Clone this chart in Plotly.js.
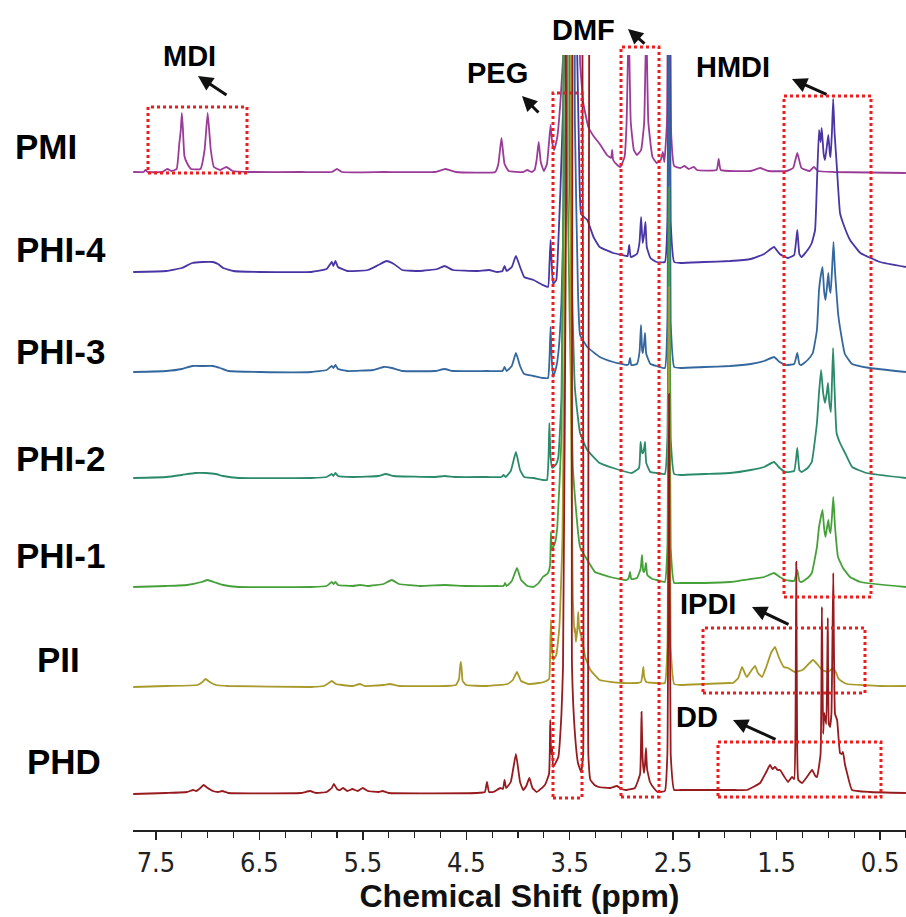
<!DOCTYPE html>
<html>
<head>
<meta charset="utf-8">
<script src="https://cdn.plot.ly/plotly-3.0.1.min.js"></script>
<style>html,body{margin:0;padding:0;background:#fff;}#chart{width:906px;height:917px;}</style>
</head>
<body>
<div id="chart"></div>
<script>
// ---- sample names (stack order, top to bottom) ----
const sampleNames = ['PMI', 'PHI-4', 'PHI-3', 'PHI-2', 'PHI-1', 'PII', 'PHD'];

// ---- spectra: [chemical shift (ppm), relative intensity above own baseline] ----
const pmi = [[7.72,0],[7.62,0],[7.60,2],[7.58,0],[7.44,0],[7.39,3],[7.35,1],[7.30,3],[7.275,28],[7.26,42],[7.25,59],[7.24,44],[7.225,16],[7.20,9],[7.16,3],[7.07,3],[7.03,22],[7.00,59],[6.97,22],[6.94,5],[6.88,2],[6.82,5],[6.76,1],[6.60,0],[6.10,0],[5.80,0],[5.75,3],[5.70,0],[5.30,0],[4.80,0],[4.70,3],[4.60,0],[4.22,0],[4.19,8],[4.16,34],[4.13,8],[4.09,1],[3.95,0],[3.91,2],[3.87,0],[3.84,2],[3.82,12],[3.80,30],[3.78,10],[3.75,1],[3.72,8],[3.70,30],[3.685,47],[3.67,30],[3.65,22],[3.62,35],[3.59,70],[3.55,140],[3.50,300],[3.465,1500],[3.445,1500],[3.42,250],[3.40,110],[3.37,70],[3.35,59],[3.32,45],[3.27,36],[3.21,28],[3.14,17],[3.10,14],[3.09,22],[3.08,12],[3.04,7],[3.01,5],[2.97,15],[2.95,50],[2.93,150],[2.91,50],[2.88,22],[2.85,17],[2.81,22],[2.78,50],[2.76,150],[2.74,50],[2.70,15],[2.66,9],[2.62,12],[2.60,20],[2.585,10],[2.56,50],[2.54,450],[2.52,40],[2.49,6],[2.43,4],[2.39,6],[2.35,3],[2.30,5],[2.27,2],[2.08,2],[2.06,13],[2.04,2],[1.75,1],[1.66,4],[1.58,1],[1.40,1],[1.34,4],[1.30,19],[1.26,4],[1.18,1],[1.14,5],[1.10,1],[0.95,0],[0.25,-1]];

const phi4 = [[7.72,0],[7.40,1],[7.25,4],[7.15,9],[7.05,10],[6.95,10],[6.90,8],[6.85,4],[6.75,1],[6.50,0],[6.00,0],[5.85,3],[5.80,10],[5.785,6],[5.765,11],[5.74,5],[5.65,1],[5.45,2],[5.35,7],[5.27,11],[5.20,8],[5.12,2],[4.95,1],[4.78,3],[4.71,6],[4.63,2],[4.40,1],[4.28,2],[4.20,0],[4.15,1],[4.13,6],[4.11,1],[4.06,5],[4.02,16],[3.98,5],[3.94,-5],[3.85,-8],[3.76,-13],[3.71,-15],[3.695,10],[3.685,32],[3.675,10],[3.66,-12],[3.63,-8],[3.61,30],[3.59,82],[3.54,250],[3.48,1500],[3.46,1500],[3.44,300],[3.41,120],[3.39,58],[3.33,52],[3.27,35],[3.21,25],[3.08,19],[2.95,16],[2.94,16],[2.925,27],[2.91,15],[2.85,18],[2.825,30],[2.81,55],[2.795,29],[2.78,38],[2.768,50],[2.755,25],[2.72,14],[2.66,10],[2.58,10],[2.556,50],[2.54,500],[2.524,50],[2.49,10],[2.43,9],[2.20,10],[1.95,11],[1.75,13],[1.62,18],[1.525,25],[1.47,18],[1.39,14],[1.33,17],[1.30,42],[1.28,18],[1.26,15],[1.20,22],[1.16,29],[1.128,42],[1.109,92],[1.09,142],[1.075,130],[1.064,144],[1.045,118],[1.032,112],[1.015,125],[1.00,137],[0.985,118],[0.978,115],[0.965,140],[0.953,173],[0.94,140],[0.92,109],[0.887,59],[0.858,49],[0.79,32],[0.69,19],[0.50,10],[0.25,5]];

const phi3 = [[7.72,0],[7.40,1],[7.25,3],[7.15,6],[7.05,6],[6.95,6],[6.88,4],[6.80,1],[6.50,0],[6.00,0],[5.85,2],[5.80,6],[5.785,4],[5.765,7],[5.74,3],[5.65,1],[5.40,2],[5.30,5],[5.22,4],[5.12,1],[4.80,1],[4.71,3],[4.63,1],[4.30,1],[4.15,1],[4.13,5],[4.11,1],[4.06,6],[4.02,19],[3.98,6],[3.94,-2],[3.85,-4],[3.76,-6],[3.71,-6],[3.695,15],[3.685,45],[3.675,15],[3.66,-5],[3.63,5],[3.61,19],[3.58,70],[3.54,250],[3.50,1500],[3.48,1500],[3.45,250],[3.42,80],[3.40,37],[3.33,25],[3.21,15],[3.08,10],[2.95,7],[2.93,8],[2.917,14],[2.905,7],[2.85,8],[2.825,20],[2.811,47],[2.80,22],[2.792,19],[2.78,30],[2.772,39],[2.76,18],[2.72,8],[2.66,6],[2.58,4],[2.556,50],[2.54,500],[2.524,50],[2.49,5],[2.43,4],[2.20,5],[1.95,6],[1.75,8],[1.62,11],[1.525,15],[1.47,10],[1.41,7],[1.33,8],[1.30,19],[1.28,8],[1.26,7],[1.20,12],[1.15,19],[1.11,42],[1.09,82],[1.075,95],[1.056,105],[1.04,80],[1.027,72],[1.013,85],[1.00,99],[0.99,85],[0.978,79],[0.965,100],[0.95,130],[0.935,100],[0.906,59],[0.88,40],[0.84,18],[0.77,8],[0.60,4],[0.25,0]];

const phi2 = [[7.72,0],[7.40,1],[7.25,3],[7.12,5],[7.02,5],[6.92,4],[6.85,2],[6.70,0],[6.00,0],[5.85,1],[5.80,4],[5.785,2],[5.765,5],[5.74,2],[5.60,1],[5.35,2],[5.28,4],[5.20,2],[4.80,1],[4.71,2],[4.60,1],[4.30,1],[4.16,1],[4.14,3],[4.12,1],[4.07,7],[4.02,26],[3.98,8],[3.94,1],[3.85,0],[3.76,-2],[3.72,-2],[3.705,20],[3.697,55],[3.685,21],[3.67,10],[3.63,14],[3.61,21],[3.58,80],[3.56,300],[3.545,1500],[3.53,1500],[3.50,300],[3.45,90],[3.40,45],[3.33,28],[3.21,15],[3.08,10],[2.90,5],[2.83,10],[2.815,36],[2.80,25],[2.792,25],[2.78,30],[2.772,36],[2.76,15],[2.72,6],[2.66,5],[2.58,4],[2.556,40],[2.54,280],[2.524,40],[2.49,4],[2.43,3],[2.20,4],[1.95,5],[1.75,8],[1.62,11],[1.525,16],[1.47,10],[1.41,6],[1.33,7],[1.30,30],[1.28,8],[1.26,6],[1.20,10],[1.16,16],[1.11,55],[1.09,85],[1.07,108],[1.05,85],[1.032,75],[1.015,85],[1.003,95],[0.99,75],[0.975,66],[0.965,95],[0.954,130],[0.94,90],[0.92,45],[0.887,35],[0.838,25],[0.77,11],[0.63,5],[0.25,0]];

const phi1 = [[7.72,0],[7.40,1],[7.20,2],[7.06,5],[7.00,7],[6.94,5],[6.85,2],[6.70,0],[6.00,0],[5.85,1],[5.80,5],[5.785,3],[5.765,5],[5.74,2],[5.60,1],[5.53,2],[5.45,1],[5.30,3],[5.22,7],[5.15,3],[4.95,1],[4.70,2],[4.50,1],[4.20,1],[4.14,1],[4.125,4],[4.11,1],[4.06,6],[4.01,19],[3.97,7],[3.91,1],[3.85,0],[3.80,4],[3.76,10],[3.71,14],[3.69,22],[3.682,55],[3.672,37],[3.64,45],[3.62,60],[3.58,150],[3.56,400],[3.55,1500],[3.535,1500],[3.52,400],[3.47,120],[3.40,40],[3.30,22],[3.256,15],[3.11,10],[2.95,7],[2.93,9],[2.917,15],[2.905,8],[2.85,9],[2.815,18],[2.801,32],[2.79,16],[2.782,15],[2.772,18],[2.763,24],[2.75,12],[2.70,8],[2.656,7],[2.58,5],[2.556,40],[2.54,400],[2.524,40],[2.49,4],[2.43,4],[2.20,4],[1.95,5],[1.75,8],[1.62,10],[1.525,14],[1.47,10],[1.41,7],[1.33,6],[1.30,17],[1.28,6],[1.26,5],[1.20,9],[1.16,14],[1.11,40],[1.09,60],[1.056,77],[1.04,58],[1.027,50],[1.012,60],[1.00,67],[0.99,58],[0.978,54],[0.965,70],[0.952,90],[0.935,60],[0.906,30],[0.858,19],[0.79,10],[0.69,5],[0.25,0]];

const pii = [[7.72,0],[7.40,1],[7.10,2],[7.05,5],[7.02,8],[6.98,5],[6.92,2],[6.80,1],[6.00,0],[5.88,1],[5.83,4],[5.80,6],[5.76,3],[5.70,2],[5.60,1],[5.53,3],[5.48,1],[5.30,2],[5.24,3],[5.15,1],[4.70,1],[4.60,2],[4.57,8],[4.56,20],[4.552,25],[4.545,18],[4.535,6],[4.50,2],[4.30,1],[4.10,3],[4.05,7],[4.01,15],[3.97,6],[3.90,3],[3.80,4],[3.75,5],[3.70,8],[3.69,30],[3.682,67],[3.672,40],[3.66,27],[3.63,32],[3.60,60],[3.57,150],[3.54,500],[3.525,1500],[3.51,1500],[3.49,300],[3.47,90],[3.455,55],[3.449,59],[3.44,45],[3.425,60],[3.418,75],[3.41,60],[3.38,47],[3.35,30],[3.30,17],[3.21,7],[3.00,4],[2.85,4],[2.81,5],[2.795,14],[2.788,20],[2.78,10],[2.76,5],[2.66,4],[2.58,4],[2.556,40],[2.54,400],[2.524,40],[2.49,3],[2.43,2],[2.20,3],[1.95,4],[1.92,4],[1.87,9],[1.834,20],[1.80,12],[1.786,10],[1.76,14],[1.709,21],[1.68,14],[1.641,10],[1.60,20],[1.55,35],[1.515,40],[1.48,30],[1.43,20],[1.389,19],[1.322,15],[1.25,17],[1.20,22],[1.148,27],[1.10,22],[1.061,17],[1.003,15],[0.954,19],[0.92,13],[0.906,9],[0.86,5],[0.819,3],[0.50,1],[0.25,1]];

const phd = [[7.72,0],[7.40,1],[7.20,2],[7.14,4],[7.11,3],[7.07,6],[7.04,9],[7.00,6],[6.95,3],[6.90,2],[6.86,3],[6.80,1],[6.10,1],[6.01,3],[5.95,1],[5.85,2],[5.80,6],[5.78,10],[5.75,5],[5.72,4],[5.69,6],[5.65,3],[5.60,5],[5.55,3],[5.50,6],[5.45,3],[5.35,2],[5.31,3],[5.25,1],[4.40,1],[4.32,2],[4.30,12],[4.28,2],[4.24,2],[4.17,6],[4.145,5],[4.13,14],[4.115,6],[4.07,12],[4.02,40],[3.98,12],[3.95,4],[3.92,8],[3.89,16],[3.86,6],[3.82,2],[3.74,9],[3.70,20],[3.688,74],[3.68,40],[3.671,47],[3.66,27],[3.61,37],[3.58,80],[3.565,127],[3.535,600],[3.52,1500],[3.50,1500],[3.478,127],[3.45,61],[3.42,31],[3.39,22],[3.37,40],[3.355,1500],[3.335,1500],[3.32,40],[3.30,14],[3.26,9],[3.22,7],[3.11,6],[3.043,8],[3.00,5],[2.95,4],[2.87,6],[2.82,20],[2.806,82],[2.795,35],[2.782,21],[2.772,30],[2.763,46],[2.752,25],[2.724,12],[2.68,5],[2.65,2],[2.58,3],[2.556,40],[2.54,400],[2.524,40],[2.49,4],[2.43,4],[2.20,4],[1.90,4],[1.786,4],[1.66,11],[1.60,22],[1.564,29],[1.54,25],[1.515,27],[1.49,24],[1.467,24],[1.43,18],[1.389,12],[1.351,17],[1.33,15],[1.318,60],[1.31,232],[1.302,60],[1.29,14],[1.254,11],[1.20,18],[1.157,24],[1.125,18],[1.109,17],[1.075,40],[1.062,187],[1.05,60],[1.04,81],[1.02,70],[1.005,176],[0.995,70],[0.983,67],[0.97,80],[0.952,221],[0.935,80],[0.915,74],[0.887,41],[0.872,40],[0.858,42],[0.84,30],[0.819,21],[0.771,4],[0.60,2],[0.25,1]];

const spectra = [pmi, phi4, phi3, phi2, phi1, pii, phd];

// ---- styling / layout constants ----
const lineColors = ['#9b3b98', '#4a35a5', '#33679e', '#2b8a6a', '#46a03a', '#a89a2a', '#961a1e'];
const baselinePx = [172, 272, 372, 478, 587, 687, 794];
const W = 906, H = 917, L = 133, T = 55, B = 830;
const PW = W - L, PH = B - T;
const px = v => (v - L) / PW;
const py = v => (B - v) / PH;

const traces = spectra.map((s, i) => ({
  type: 'scatter', mode: 'lines',
  x: s.map(p => p[0]), y: s.map(p => p[1]),
  yaxis: i === 0 ? 'y' : 'y' + (i + 1),
  line: { color: lineColors[i], width: 1.8, shape: 'spline', smoothing: 0.35 },
  hoverinfo: 'skip', showlegend: false, name: sampleNames[i]
}));

const bold = { family: 'Liberation Sans, Arial, sans-serif', weight: 'bold', color: '#000' };

const layout = {
  width: W, height: H,
  margin: { l: L, r: 0, t: T, b: H - B, pad: 0 },
  paper_bgcolor: '#fff', plot_bgcolor: '#fff',
  showlegend: false,
  xaxis: {
    range: [7.722, 0.249], domain: [0, 1], anchor: 'y',
    showgrid: false, zeroline: false,
    showline: true, linecolor: '#222', linewidth: 1.5,
    ticks: 'outside', ticklen: 8, tickwidth: 1.5, tickcolor: '#222',
    tickmode: 'linear', tick0: 0.5, dtick: 1,
    minor: { tickmode: 'linear', tick0: 0, dtick: 0.25, ticks: 'outside', ticklen: 6, tickwidth: 1.2, tickcolor: '#222', showgrid: false },
    tickfont: { family: 'Liberation Sans Narrow, DejaVu Sans Condensed, Liberation Sans, sans-serif', size: 27, color: '#222' },
    automargin: false,
    title: { text: 'Chemical Shift (ppm)', standoff: 7, font: Object.assign({}, bold, { size: 32, color: '#111' }) }
  },
  shapes: [],
  annotations: []
};

baselinePx.forEach((b, i) => {
  const key = i === 0 ? 'yaxis' : 'yaxis' + (i + 1);
  const ax = { domain: [0, 1], range: [b - B, b - T], visible: false, fixedrange: true, showgrid: false, zeroline: false };
  if (i > 0) ax.overlaying = 'y';
  layout[key] = ax;
});

// sample labels on the left
const labelPos = [[13, 146], [14, 249], [14, 352], [14, 458], [14, 555], [35, 659], [25, 761]];
sampleNames.forEach((n, i) => {
  layout.annotations.push({
    xref: 'paper', yref: 'paper', x: px(labelPos[i][0]), y: py(labelPos[i][1]),
    xanchor: 'left', yanchor: 'middle', showarrow: false, text: n,
    font: Object.assign({}, bold, { size: 35 })
  });
});

// region labels, arrows and dotted boxes
const regionNames = ['MDI', 'PEG', 'DMF', 'HMDI', 'IPDI', 'DD'];
const regionLabelPos = [[189, 56], [497, 73], [583, 30], [733, 67], [708, 604], [697, 717]];
const arrowHead = [[198, 76], [522, 96], [628, 29], [792, 79], [752, 607], [733, 720]];
const arrowTail = [[228, 96], [540, 114], [646, 45], [828, 95], [790, 625], [777, 740]];
const boxPx = [[148, 107, 247, 173], [553, 93, 582, 798], [621, 47, 659, 797], [784, 96, 871, 597], [703, 628, 865, 693], [718, 742, 881, 797]];

regionNames.forEach((n, i) => {
  layout.annotations.push({
    xref: 'paper', yref: 'paper', x: px(regionLabelPos[i][0]), y: py(regionLabelPos[i][1]),
    xanchor: 'center', yanchor: 'middle', showarrow: false, text: n,
    font: Object.assign({}, bold, { size: 29 })
  });
  layout.annotations.push({
    xref: 'paper', yref: 'paper', x: px(arrowHead[i][0]), y: py(arrowHead[i][1]),
    text: '', showarrow: true, arrowhead: 2, arrowsize: 1, arrowwidth: 3, arrowcolor: '#111',
    ax: arrowTail[i][0] - arrowHead[i][0], ay: arrowTail[i][1] - arrowHead[i][1], standoff: 0, startstandoff: 0
  });
  const bx = boxPx[i];
  layout.shapes.push({
    type: 'rect', xref: 'paper', yref: 'paper', layer: 'above',
    x0: px(bx[0]), x1: px(bx[2]), y0: py(bx[3]), y1: py(bx[1]),
    line: { color: '#ee1c1c', width: 3, dash: 'dot' }, fillcolor: 'rgba(0,0,0,0)'
  });
});

Plotly.newPlot('chart', traces, layout, { staticPlot: true, displayModeBar: false });
</script>
</body>
</html>
